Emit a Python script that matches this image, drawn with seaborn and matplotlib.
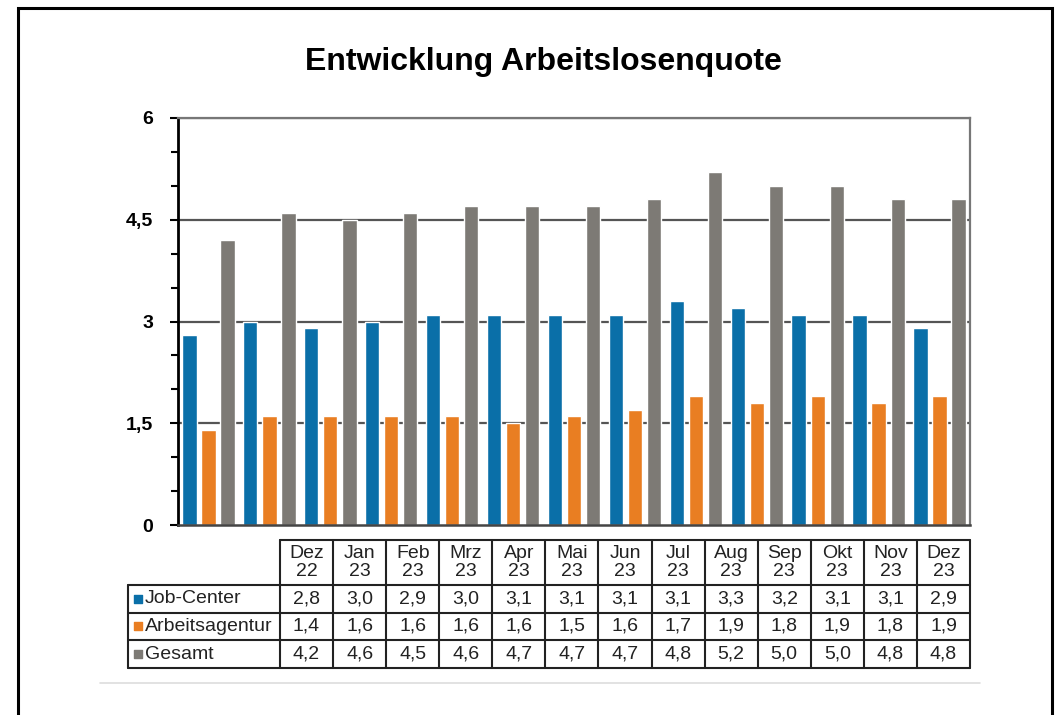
import matplotlib
matplotlib.use("Agg")
import matplotlib.pyplot as plt
import numpy as np
import pandas as pd
import seaborn as sns
from matplotlib.patches import Rectangle
from matplotlib.ticker import FixedLocator, MultipleLocator

monate = ["Dez\n22", "Jan\n23", "Feb\n23", "Mrz\n23", "Apr\n23", "Mai\n23", "Jun\n23",
          "Jul\n23", "Aug\n23", "Sep\n23", "Okt\n23", "Nov\n23", "Dez\n23"]
reihen = ["Job-Center", "Arbeitsagentur", "Gesamt"]
job_center     = [2.8, 3.0, 2.9, 3.0, 3.1, 3.1, 3.1, 3.1, 3.3, 3.2, 3.1, 3.1, 2.9]
arbeitsagentur = [1.4, 1.6, 1.6, 1.6, 1.6, 1.5, 1.6, 1.7, 1.9, 1.8, 1.9, 1.8, 1.9]
gesamt         = [4.2, 4.6, 4.5, 4.6, 4.7, 4.7, 4.7, 4.8, 5.2, 5.0, 5.0, 4.8, 4.8]
y_ticks  = [0, 1.5, 3, 4.5, 6]
y_labels = ["0", "1,5", "3", "4,5", "6"]

FARBEN = ["#0a6fa8", "#e97e22", "#7d7a75"]
W, H = 1064, 715

sns.set_theme(style="white")
plt.rcParams["font.family"] = ["Liberation Sans", "DejaVu Sans"]
plt.rcParams["text.color"] = "black"
plt.rcParams["ytick.color"] = "black"

df = pd.DataFrame({
    "Monat": np.tile(monate, 3),
    "Reihe": np.repeat(reihen, len(monate)),
    "Quote": job_center + arbeitsagentur + gesamt,
})

fig = plt.figure(figsize=(W / 100, H / 100), dpi=100)
fig.patch.set_facecolor("white")

# outer frame
fig.add_artist(Rectangle((18 / W, -0.02), (1052 - 18) / W, 1 - 8 / H + 0.02,
                         transform=fig.transFigure, fill=False, lw=2.2, ec="black"))

fig.text(543 / W, 1 - 62 / H, "Entwicklung Arbeitslosenquote", ha="center", va="center",
         fontsize=23, fontweight="bold", color="black")

# ── bar chart ────────────────────────────────────────────────────────────────
ax = fig.add_axes([178 / W, 1 - 525 / H, (970 - 178) / W, (525 - 118) / H])
sns.barplot(data=df, x="Monat", y="Quote", hue="Reihe", order=monate, hue_order=reihen,
            palette=FARBEN, saturation=1, width=0.94, gap=0.25, legend=False, ax=ax)
ax.set_xlim(-0.5, len(monate) - 0.5)
ax.set_ylim(0, 6)
ax.set_xlabel(""); ax.set_ylabel("")
ax.set_xticks([])
ax.yaxis.set_major_locator(FixedLocator(y_ticks))
ax.set_yticklabels(y_labels, fontsize=14, fontweight="bold")
ax.yaxis.set_minor_locator(MultipleLocator(0.5))
ax.tick_params(axis="y", which="both", direction="out", left=True, color="black",
               width=1.5, pad=12)
ax.tick_params(axis="y", which="major", length=6)
ax.tick_params(axis="y", which="minor", length=5)
for y in y_ticks[1:]:
    ax.axhline(y, color="#555555", lw=1.6, zorder=0)
ax.spines["left"].set_color("black"); ax.spines["left"].set_linewidth(2)
ax.spines["bottom"].set_color("#444444"); ax.spines["bottom"].set_linewidth(1.8)
for s in ("top", "right"):
    ax.spines[s].set_visible(True)
    ax.spines[s].set_color("#777777"); ax.spines[s].set_linewidth(1.6)

# ── data table (drawn by hand: label column + one column per month) ─────────
tx0, tx1, ty0, ty1 = 128, 970, 540, 668
tab_ax = fig.add_axes([tx0 / W, 1 - ty1 / H, (tx1 - tx0) / W, (ty1 - ty0) / H])
tab_ax.axis("off")
n = len(monate)
col_px = (tx1 - 280) / n
label_w = (280 - tx0) / col_px          # label column width in column units
head_h, row_h = 1.62, 1.0               # header is taller (two lines)
tab_ax.set_xlim(-label_w, n)
tab_ax.set_ylim(head_h + 3 * row_h, 0)

def fmt(v):
    return f"{v:.1f}".replace(".", ",")

lw, lc = 1.5, "#222222"
FS = 14
y_rows = [head_h + i * row_h for i in range(4)]
# horizontal lines
tab_ax.plot([0, n], [0, 0], color=lc, lw=lw, clip_on=False)
for yy in y_rows:
    tab_ax.plot([-label_w, n], [yy, yy], color=lc, lw=lw, clip_on=False)
# vertical lines
tab_ax.plot([-label_w, -label_w], [head_h, y_rows[-1]], color=lc, lw=lw, clip_on=False)
for i in range(n + 1):
    tab_ax.plot([i, i], [0, y_rows[-1]], color=lc, lw=lw, clip_on=False)

for i, m in enumerate(monate):
    tab_ax.text(i + 0.5, head_h / 2, m, ha="center", va="center", fontsize=FS,
                linespacing=1.05, color=lc)
for r, (name, farbe, serie) in enumerate(zip(reihen, FARBEN,
                                             (job_center, arbeitsagentur, gesamt))):
    yc = head_h + (r + 0.5) * row_h
    tab_ax.scatter([-label_w + 10 / col_px], [yc], marker="s", s=38, color=farbe,
                   clip_on=False, zorder=5)
    tab_ax.text(-label_w + 17 / col_px, yc, name, ha="left", va="center",
                fontsize=FS, color=lc)
    for i, v in enumerate(serie):
        tab_ax.text(i + 0.5, yc, fmt(v), ha="center", va="center", fontsize=FS, color=lc)

# faint rule under the chart
fig.add_artist(plt.Line2D([100 / W, 980 / W], [1 - 683 / H] * 2, transform=fig.transFigure,
                          color="#dddddd", lw=1.2))

fig.savefig("out.png", dpi=100, facecolor="white")
